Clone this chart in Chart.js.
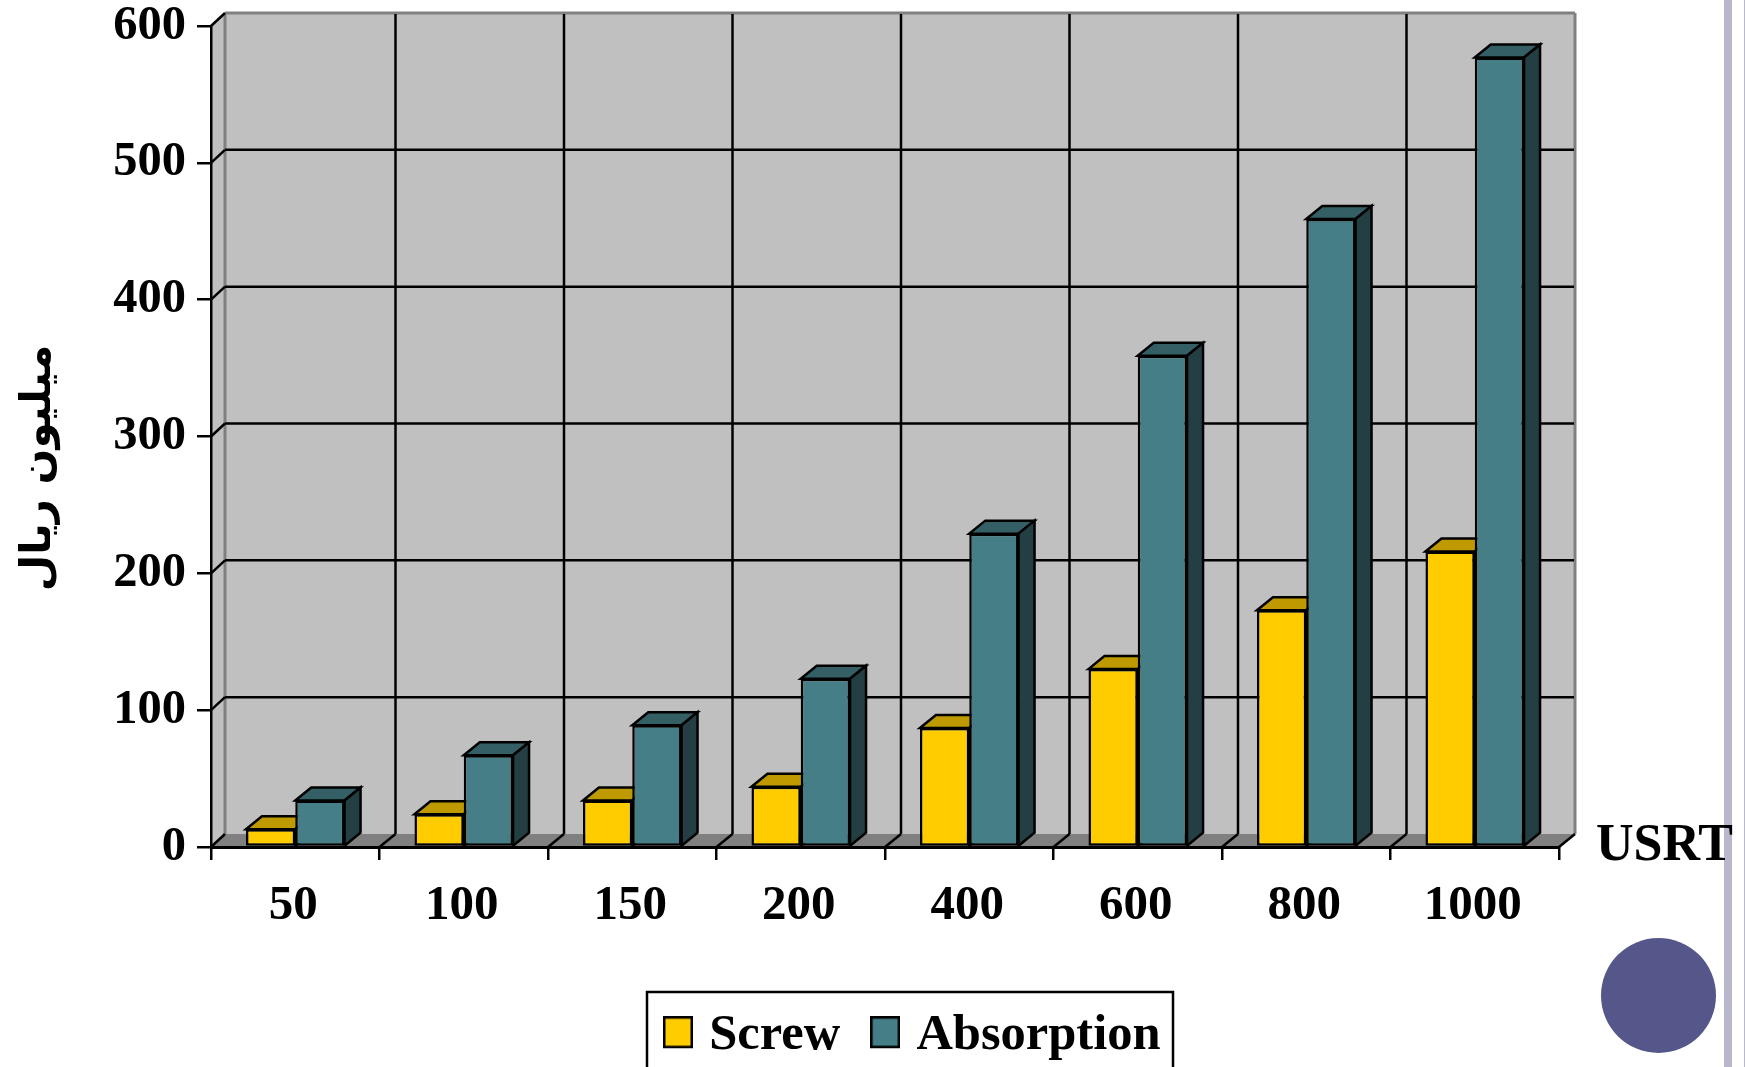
<!DOCTYPE html>
<html>
<head>
<meta charset="utf-8">
<style>
  body { margin: 0; background: #fff; }
  #page { position: relative; width: 1745px; height: 1067px; overflow: hidden; }
  #chart { position: absolute; left: 0; top: 0; }
  .bar1 { position: absolute; left: 1724px; top: 0; width: 8px; height: 1067px; background: #b8b7cc; }
  .bar2 { position: absolute; left: 1744px; top: 0; width: 1px; height: 1067px; background: #b8b7cc; }
  .dot { position: absolute; left: 1601px; top: 938px; width: 115px; height: 115px; border-radius: 50%; background: #55568a; }
</style>
<script src="https://cdn.jsdelivr.net/npm/chart.js"></script>
</head>
<body>
<div id="page">
  <div class="bar1"></div>
  <div class="bar2"></div>
  <div class="dot"></div>
  <canvas id="chart" width="1745" height="1067"></canvas>
</div>
<script>
const categories = ["50", "100", "150", "200", "400", "600", "800", "1000"];
const screw = [13, 24, 34, 44, 87, 130, 173, 216];
const absorption = [34, 67, 89, 123, 229, 359, 459, 577];
const yTitle = "میلیون ریال";
const xTitle = "USRT";

const serif = "'Liberation Serif', 'Times New Roman', serif";
const depthX = 16;
const depthY = 13;
const wallX = 14;

const makeSwatch = (color) => {
  const c = document.createElement("canvas");
  c.width = 30;
  c.height = 40; // blank strip at the bottom lifts the swatch against the text
  const g = c.getContext("2d");
  g.fillStyle = color;
  g.strokeStyle = "#000";
  g.lineWidth = 2.5;
  g.fillRect(1, 1, 28, 30);
  g.strokeRect(1.25, 1.25, 27.5, 29.5);
  return c;
};

const poly = (ctx, pts, fill, stroke, width) => {
  ctx.beginPath();
  pts.forEach((p, i) => (i ? ctx.lineTo(p[0], p[1]) : ctx.moveTo(p[0], p[1])));
  ctx.closePath();
  if (fill) {
    ctx.fillStyle = fill;
    ctx.fill();
  }
  if (stroke) {
    ctx.strokeStyle = stroke;
    ctx.lineWidth = width;
    ctx.stroke();
  }
};

const line = (ctx, x1, y1, x2, y2) => {
  ctx.beginPath();
  ctx.moveTo(x1, y1);
  ctx.lineTo(x2, y2);
  ctx.stroke();
};

const scene = {
  id: "scene",
  afterLayout(chart) {
    // the legend sits off centre and runs off the bottom of the page
    chart.legend.left = 633;
    chart.legend.top = 972;
  },
  beforeDraw(chart) {
    const { ctx, chartArea: a, scales } = chart;
    const { x, y } = scales;
    ctx.save();
    // walls and floor
    poly(ctx, [[a.left, a.top], [a.left + wallX, a.top - depthY], [a.right + depthX, a.top - depthY],
      [a.right + depthX, a.bottom - depthY], [a.left + wallX, a.bottom - depthY], [a.left, a.bottom]], "#c0c0c0");
    ctx.strokeStyle = "#808080";
    ctx.lineWidth = 3;
    line(ctx, a.left + wallX, a.top - depthY, a.right + depthX, a.top - depthY);
    line(ctx, a.right + depthX, a.top - depthY, a.right + depthX, a.bottom - depthY);
    line(ctx, a.left + wallX, a.top - depthY, a.left + wallX, a.bottom - depthY);
    poly(ctx, [[a.left, a.bottom], [a.left + wallX, a.bottom - depthY],
      [a.right + depthX, a.bottom - depthY], [a.right, a.bottom]], "#808080");
    // back wall grid, joined to the front ticks
    ctx.strokeStyle = "#000";
    ctx.lineWidth = 2.5;
    y.ticks.forEach((t) => {
      const py = y.getPixelForValue(t.value);
      line(ctx, a.left, py, a.left + wallX, py - depthY);
      if (t.value > 0 && t.value < 600) line(ctx, a.left + wallX, py - depthY, a.right + depthX - 1, py - depthY);
    });
    const step = x.width / categories.length;
    categories.forEach((c, i) => {
      const px = x.left + step * (i + 1);
      line(ctx, px, a.bottom, px + depthX, a.bottom - depthY);
      if (i < categories.length - 1) line(ctx, px + depthX, a.bottom - depthY, px + depthX, a.top - depthY + 1);
    });
    ctx.restore();
  },
  beforeDatasetsDraw(chart) {
    const { ctx } = chart;
    ctx.save();
    ctx.lineJoin = "miter";
    chart.data.datasets.forEach((ds, d) => {
      chart.getDatasetMeta(d).data.forEach((bar) => {
        const l = bar.x - bar.width / 2;
        const r = bar.x + bar.width / 2;
        poly(ctx, [[l, bar.y], [l + depthX, bar.y - depthY], [r + depthX, bar.y - depthY], [r, bar.y]], ds.topColor, "#000", 2.5);
        poly(ctx, [[r, bar.y], [r + depthX, bar.y - depthY], [r + depthX, bar.base - depthY], [r, bar.base]], ds.sideColor, "#000", 2.5);
      });
    });
    ctx.restore();
  },
  afterDraw(chart) {
    const { ctx } = chart;
    ctx.save();
    ctx.strokeStyle = "#000";
    ctx.lineWidth = 2.5;
    ctx.strokeRect(647, 992, 526, 100);
    ctx.fillStyle = "#000";
    ctx.font = "bold 52px " + serif;
    ctx.textAlign = "left";
    ctx.textBaseline = "alphabetic";
    ctx.fillText(xTitle, 1596, 860);
    ctx.translate(39, 468);
    ctx.rotate(-Math.PI / 2);
    ctx.font = "bold 42px 'DejaVu Sans'";
    ctx.textAlign = "center";
    ctx.textBaseline = "middle";
    ctx.fillText(yTitle, 0, 0);
    ctx.restore();
  },
};

new Chart(document.getElementById("chart"), {
  type: "bar",
  data: {
    labels: categories,
    datasets: [
      { label: "Screw", data: screw, backgroundColor: "#ffcc00", topColor: "#bf9900", sideColor: "#bf9900", borderColor: "#000", borderWidth: 2.5, borderSkipped: false },
      { label: "Absorption", data: absorption, backgroundColor: "#457e86", topColor: "#346065", sideColor: "#233f44", borderColor: "#000", borderWidth: 2.5, borderSkipped: false },
    ],
  },
  options: {
    responsive: false,
    animation: false,
    layout: { autoPadding: false, padding: { top: 26, right: 186, bottom: 0, left: 0 } },
    datasets: { bar: { barPercentage: 1, categoryPercentage: 0.585 } },
    plugins: {
      tooltip: { enabled: false },
      legend: {
        position: "bottom",
        align: "start",
        labels: {
          usePointStyle: true,
          pointStyleWidth: 12,
          padding: 39,
          color: "#000",
          font: { family: serif, size: 50.5, weight: "bold" },
          generateLabels: (chart) =>
            chart.data.datasets.map((ds, i) => ({
              text: ds.label,
              fillStyle: ds.backgroundColor,
              strokeStyle: "#000",
              pointStyle: makeSwatch(ds.backgroundColor),
              datasetIndex: i,
            })),
        },
      },
    },
    scales: {
      x: {
        afterFit: (s) => {
          s.height = 220 - s.chart.legend.height;
        },
        grid: { drawOnChartArea: false, tickLength: 13, tickColor: "#000", lineWidth: 2.5 },
        border: { color: "#000", width: 3 },
        ticks: { color: "#000", padding: 17, labelOffset: -2, autoSkip: false, maxRotation: 0, font: { family: serif, size: 49, weight: "bold" } },
      },
      y: {
        min: 0,
        max: 600,
        afterFit: (s) => {
          s.width = 211;
          // tick labels may hang over the plot, the top label sits near the page edge
          s.paddingTop = 0;
          s.paddingBottom = 0;
        },
        grid: { drawOnChartArea: false, tickLength: 14, tickColor: "#000", lineWidth: 2.5 },
        border: { color: "#000", width: 2.5 },
        ticks: { stepSize: 100, color: "#000", padding: 11, font: { family: serif, size: 48.5, weight: "bold" } },
      },
    },
  },
  plugins: [scene],
});
</script>
</body>
</html>
